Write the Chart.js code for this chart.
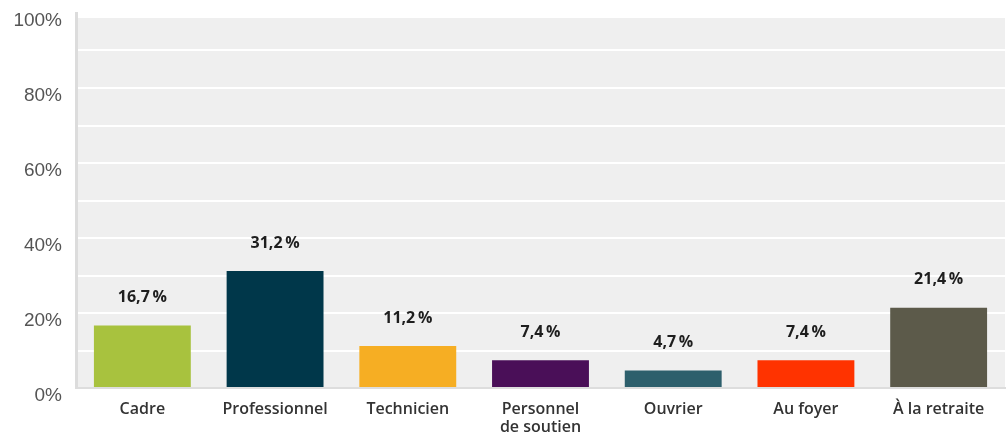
<!DOCTYPE html>
<html>
<head>
<meta charset="utf-8">
<script src="https://cdn.jsdelivr.net/npm/chart.js@4/dist/chart.umd.min.js"></script>
<style>
  html, body { margin: 0; padding: 0; background: #fff; }
  #wrap { width: 1007px; height: 440px; }
</style>
</head>
<body>
<div id="wrap"><canvas id="chart"></canvas></div>
<script>
// données
const categories = ['Cadre', 'Professionnel', 'Technicien', ['Personnel', 'de soutien'], 'Ouvrier', 'Au foyer', 'À la retraite'];
const values = [16.7, 31.2, 11.2, 7.4, 4.7, 7.4, 21.4];
const barColors = ['#a8c23e', '#00374a', '#f6ae23', '#4a0f58', '#2d5f6c', '#ff3300', '#5c5a4a'];
const yTicks = [0, 20, 40, 60, 80, 100];

// fond gris de la zone du graphique
const plotBackground = {
    id: 'plotBackground',
    beforeDraw(chart) {
        const { ctx, chartArea } = chart;
        ctx.save();
        ctx.fillStyle = '#efefef';
        ctx.fillRect(chartArea.left, chartArea.top + 5, chartArea.right - chartArea.left, chartArea.bottom - chartArea.top - 5);
        ctx.restore();
    }
};

// étiquettes de valeur au-dessus des barres
const valueLabels = {
    id: 'valueLabels',
    afterDatasetsDraw(chart) {
        const { ctx } = chart;
        const meta = chart.getDatasetMeta(0);
        ctx.save();
        ctx.font = 'bold 16px "Open Sans", sans-serif';
        ctx.fillStyle = '#1e1e1e';
        ctx.textAlign = 'center';
        ctx.textBaseline = 'middle';
        meta.data.forEach((bar, i) => {
            const txt = values[i].toFixed(1).replace('.', ',') + '\u2009%';
            ctx.fillText(txt, bar.x, bar.y - 28);
        });
        ctx.restore();
    }
};

new Chart(document.getElementById('chart'), {
    type: 'bar',
    data: {
        labels: categories,
        datasets: [{
            data: values,
            backgroundColor: barColors,
            barPercentage: 0.73,
            categoryPercentage: 1
        }]
    },
    options: {
        responsive: true,
        maintainAspectRatio: false,
        animation: false,
        layout: { padding: { top: 13, right: 2, bottom: 0, left: 0 } },
        plugins: {
            legend: { display: false },
            tooltip: { enabled: false }
        },
        scales: {
            x: {
                grid: { display: false, drawTicks: false },
                border: { color: '#dddddd', width: 2 },
                ticks: {
                    color: '#333333',
                    padding: 12,
                    font: { family: '"Open Sans", sans-serif', size: 16, weight: '600', lineHeight: 1.15 },
                    maxRotation: 0
                },
                afterFit(scale) { scale.height = 52; }
            },
            y: {
                min: 0,
                max: 100,
                grid: { color: '#ffffff', lineWidth: 2, drawTicks: false },
                border: { color: '#dcdcdc', width: 3 },
                ticks: {
                    stepSize: 10,
                    color: '#555555',
                    padding: 14,
                    labelOffset: 8,
                    font: { family: '"Liberation Sans", Arial, sans-serif', size: 19 },
                    callback: v => yTicks.includes(v) ? v + '%' : ''
                },
                afterFit(scale) {
                    scale.width = 76;
                    scale.paddingTop = 0;
                    scale.paddingBottom = 0;
                }
            }
        }
    },
    plugins: [plotBackground, valueLabels]
});
</script>
</body>
</html>
